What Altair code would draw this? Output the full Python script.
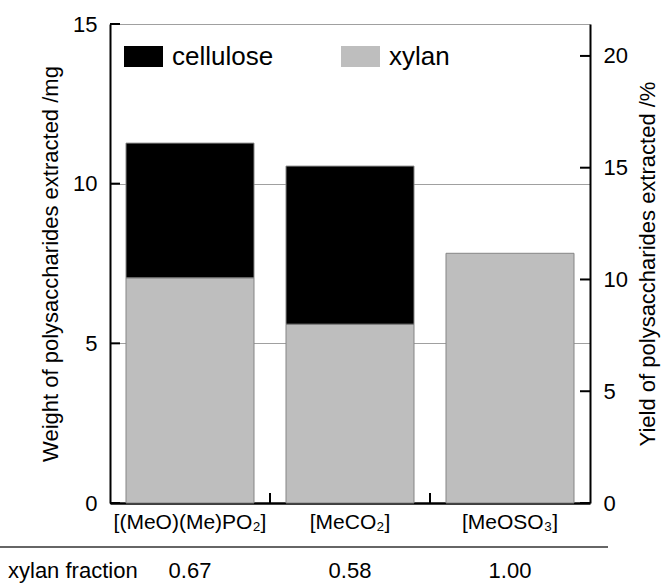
import altair as alt
import pandas as pd

# Extracted polysaccharides per ionic liquid anion (mg)
solvents = ["[(MeO)(Me)PO₂]", "[MeCO₂]", "[MeOSO₃]"]
xylan_mg = [7.05, 5.60, 7.82]
cellulose_mg = [4.22, 4.95, 0.0]
xylan_fraction = ["0.67", "0.58", "1.00"]

components = ["cellulose", "xylan"]
component_colors = ["#000000", "#bebebe"]

weight_ticks = [0, 5, 10, 15]
yield_ticks = [0, 5, 10, 15, 20]
sample_mass_mg = 70.0          # yield (%) = weight / sample mass * 100
weight_max = 15

FONT = "Liberation Sans"
W, H = 480, 479

rows = []
for s, x, c in zip(solvents, xylan_mg, cellulose_mg):
    rows.append({"solvent": s, "component": "xylan", "mg": x, "k": 0})
    if c > 0:
        rows.append({"solvent": s, "component": "cellulose", "mg": c, "k": 1})
bars_df = pd.DataFrame(rows)

x_scale = alt.Scale(paddingInner=0.2, paddingOuter=0.1)
x_axis = alt.Axis(title=None, labelAngle=0, labelFontSize=21, labelPadding=8,
                  ticks=False, tickSize=0, domainColor="black", domainWidth=2.5,
                  labelColor="black", labelFont=FONT, grid=False)


def x_enc(**kw):
    return alt.X("solvent:N", sort=solvents, scale=x_scale, axis=x_axis, **kw)


weight_scale = alt.Scale(domain=[0, weight_max])
yield_scale = alt.Scale(domain=[0, weight_max / sample_mass_mg * 100])

bars = alt.Chart(bars_df).mark_bar(stroke="#858585", strokeWidth=1).encode(
    x=x_enc(),
    y=alt.Y("mg:Q", stack="zero", scale=weight_scale,
            axis=alt.Axis(title="Weight of polysaccharides extracted /mg",
                          values=weight_ticks, orient="left",
                          ticks=False, tickSize=0, labelPadding=13,
                          labelFontSize=22, labelColor="black", labelFont=FONT,
                          domainColor="black", domainWidth=2,
                          grid=True, gridColor="#a0a0a0", gridWidth=1,
                          titleFontSize=22, titleFontWeight="normal",
                          titleColor="black", titleFont=FONT,
                          titleAngle=270, titleAlign="center",
                          titleBaseline="middle", titleX=-60, titleY=H / 2)),
    color=alt.Color("component:N",
                    scale=alt.Scale(domain=components, range=component_colors),
                    legend=None),
    order=alt.Order("k:Q"),
)

# inward ticks on the left axis
left_ticks = alt.Chart(pd.DataFrame({"v": weight_ticks})).mark_rule(
    color="black", strokeWidth=2
).encode(
    y=alt.Y("v:Q", scale=weight_scale, axis=None),
    x=alt.value(0), x2=alt.value(10),
)

# right axis (yield %) with inward ticks
right_axis = alt.Chart(pd.DataFrame({"v": yield_ticks})).mark_rule(
    color="black", strokeWidth=2
).encode(
    y=alt.Y("v:Q", scale=yield_scale,
            axis=alt.Axis(title="Yield of polysaccharides extracted /%",
                          values=yield_ticks, orient="right",
                          ticks=False, tickSize=0, labelPadding=13,
                          labelFontSize=22, labelColor="black", labelFont=FONT,
                          domainColor="black", domainWidth=2, grid=False,
                          titleFontSize=22, titleFontWeight="normal",
                          titleColor="black", titleFont=FONT,
                          titleAngle=270, titleAlign="center",
                          titleBaseline="middle", titleX=57, titleY=H / 2)),
    x=alt.value(W - 10), x2=alt.value(W),
)

# upward ticks between categories on the x axis
cat_ticks = alt.Chart(pd.DataFrame({"solvent": solvents[1:]})).mark_rule(
    color="black", strokeWidth=2, xOffset=-16
).encode(
    x=x_enc(bandPosition=0),
    y=alt.value(H), y2=alt.value(H - 10),
)

# xylan fraction row below the axis
frac = alt.Chart(pd.DataFrame({"solvent": solvents, "frac": xylan_fraction})).mark_text(
    fontSize=22, font=FONT, color="black", baseline="middle", align="center"
).encode(
    x=x_enc(),
    y=alt.value(547),
    text="frac:N",
)
frac_label = alt.Chart(pd.DataFrame({"t": ["xylan fraction"]})).mark_text(
    fontSize=22, font=FONT, color="black", baseline="middle", align="left"
).encode(x=alt.value(-102), y=alt.value(547), text="t:N")
separator = alt.Chart(pd.DataFrame({"t": [0]})).mark_rule(
    color="#333333", strokeWidth=1.5
).encode(x=alt.value(-110), x2=alt.value(498), y=alt.value(523))

# legend drawn inside the plot
legend_layers = []
for i, (name, col) in enumerate(zip(components, component_colors)):
    x0 = 14 + 217 * i
    legend_layers.append(
        alt.Chart(pd.DataFrame({"t": [name]})).mark_rect(color=col).encode(
            x=alt.value(x0), x2=alt.value(x0 + 39),
            y=alt.value(22), y2=alt.value(43))
    )
    legend_layers.append(
        alt.Chart(pd.DataFrame({"t": [name]})).mark_text(
            fontSize=26, font=FONT, color="black", align="left", baseline="middle"
        ).encode(x=alt.value(x0 + 48), y=alt.value(33), text="t:N")
    )

chart = alt.layer(
    bars, left_ticks, right_axis, cat_ticks, frac, frac_label, separator,
    *legend_layers
).resolve_scale(y="independent").properties(
    width=W, height=H,
    autosize=alt.AutoSizeParams(type="none"),
    padding={"left": 110, "top": 24, "right": 81, "bottom": 81},
    background="white",
).configure_view(strokeWidth=0)

chart.save("out.html", embed_options={"renderer": "svg", "actions": False})
